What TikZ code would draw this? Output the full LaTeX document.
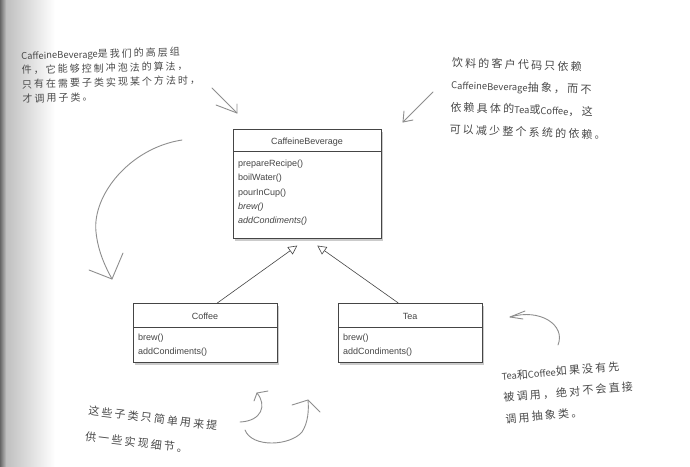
\documentclass[tikz,border=0pt]{standalone}
\usepackage{fontspec}
\setmainfont{Liberation Sans}
\newfontfamily\cjk[LetterSpace=20]{Noto Sans CJK SC}
\newfontfamily\cjkl{Noto Sans CJK SC}
\newcommand\latn[1]{{\cjkl\fontsize{9.4}{10}\selectfont #1}}
\usetikzlibrary{arrows.meta,shadows}
\definecolor{ink}{HTML}{454545}
\definecolor{hand}{HTML}{4A4A4A}
\definecolor{pen}{HTML}{8E8E8E}
\tikzset{
  classbox/.style={draw=ink, line width=0.6pt, fill=white, anchor=north west, inner sep=0pt,
    drop shadow={shadow xshift=2pt, shadow yshift=-2.5pt, fill=black!40}},
  divider/.style={draw=ink, line width=0.5pt},
  ctitle/.style={font=\fontsize{9}{11}\selectfont, text=ink, inner sep=0pt, anchor=base},
  meth/.style={font=\fontsize{9}{11}\selectfont, text=ink, inner sep=0pt, anchor=base west},
  absmeth/.style={meth, font=\fontsize{9}{11}\selectfont\itshape},
  inherit/.style={draw=ink, line width=0.6pt, -{Triangle[open, length=9pt, width=9pt, fill=white]}},
  note/.style={text=hand, inner sep=0pt, align=left, anchor=north west},
  stroke/.style={draw=pen, line width=0.9pt, line cap=round, line join=round}
}
\begin{document}
\begin{tikzpicture}[x=1pt, y=-1pt]
\useasboundingbox (0,0) rectangle (690,466);
\fill[white] (0,0) rectangle (690,466);
% page gutter shading
\shade[left color=black!60, right color=black!25] (0,0) rectangle (6,466);
\shade[left color=black!25, right color=white] (6,0) rectangle (55,466);

% ---------- CaffeineBeverage ----------
\node[classbox, minimum width=148pt, minimum height=109pt] (cb) at (233,129) {};
\draw[divider] ([yshift=-22pt]cb.north west) -- ([yshift=-22pt]cb.north east);
\node[ctitle] (cbt) at (307,144.5) {CaffeineBeverage};
\node[meth] (cbm1) at (238,166.5) {prepareRecipe()};
\node[meth] (cbm2) at (238,180.5) {boilWater()};
\node[meth] (cbm3) at (238,195) {pourInCup()};
\node[absmeth] (cbm4) at (238,209) {brew()};
\node[absmeth] (cbm5) at (238,223.5) {addCondiments()};

% ---------- Coffee ----------
\node[classbox, minimum width=144pt, minimum height=59pt] (co) at (133,303) {};
\draw[divider] ([yshift=-24pt]co.north west) -- ([yshift=-24pt]co.north east);
\node[ctitle] (cot) at (205,319.5) {Coffee};
\node[meth] (com1) at (138,340.5) {brew()};
\node[meth] (com2) at (138,354.5) {addCondiments()};

% ---------- Tea ----------
\node[classbox, minimum width=144pt, minimum height=59pt] (te) at (338,303) {};
\draw[divider] ([yshift=-24pt]te.north west) -- ([yshift=-24pt]te.north east);
\node[ctitle] (tet) at (410,319.5) {Tea};
\node[meth] (tem1) at (343,340.5) {brew()};
\node[meth] (tem2) at (343,354.5) {addCondiments()};

% ---------- inheritance ----------
\coordinate (tipL) at ([xshift=-10pt, yshift=-7pt]cb.south);
\coordinate (tipR) at ([xshift=10pt, yshift=-7pt]cb.south);
\draw[inherit] ([xshift=12pt]co.north) -- (tipL);
\draw[inherit] ([xshift=-12pt]te.north) -- (tipR);

% ---------- notes ----------
\node[note, rotate=1.5, font=\cjk\fontsize{10}{14.3}\selectfont] (n1) at (21,51)
  {{\cjkl\fontsize{9.4}{10}\selectfont CaffeineBeverage}是我们的高层组\\件，它能够控制冲泡法的算法，\\只有在需要子类实现某个方法时，\\才调用子类。};
\node[note, rotate=-2, font=\cjk\fontsize{11}{22.3}\selectfont] (n2) at (452,57)
  {饮料的客户代码只依赖\\\latn{CaffeineBeverage}抽象，而不\\依赖具体的\latn{Tea}或\latn{Coffee}，这\\可以减少整个系统的依赖。};
\node[note, rotate=-7, font=\cjk\fontsize{11}{26}\selectfont] (n3) at (89,405)
  {这些子类只简单用来提\\供一些实现细节。};
\node[note, rotate=5, font=\cjk\fontsize{11}{21.5}\selectfont] (n4) at (501,371)
  {\latn{Tea}和\latn{Coffee}如果没有先\\被调用，绝对不会直接\\调用抽象类。};

% ---------- hand-drawn arrows ----------
% arrow 1
\coordinate (a1s) at (212,88); \coordinate (a1t) at (237,113);
\draw[stroke] (a1s) -- (a1t);
\draw[stroke] (216,105) -- (a1t) -- (237,104);
% arrow 2
\coordinate (a2s) at (433,92); \coordinate (a2t) at (403,122);
\draw[stroke] (a2s) -- (a2t);
\draw[stroke] (404,111) -- (a2t) -- (413,120);
% arrow 3 big curve
\coordinate (a3s) at (182,140); \coordinate (a3t) at (112,279);
\draw[stroke] (a3s) .. controls (130,148) and (92,195) .. (96,232) .. controls (98,252) and (106,268) .. (a3t);
\draw[stroke] (89,270) -- (a3t) -- (123,253);
% arrow 4 near Tea
\coordinate (a4s) at (558,345); \coordinate (a4t) at (510,317);
\draw[stroke] (a4s) .. controls (566,325) and (540,308) .. (a4t);
\draw[stroke] (525,311) -- (a4t) -- (523,319);
% arrow 5 hook
\coordinate (a5s) at (240,422); \coordinate (a5t) at (257,393);
\draw[stroke] (a5s) .. controls (262,421) and (267,405) .. (a5t);
\draw[stroke] (254,401) -- (a5t) -- (268,391);
% arrow 6 swoop
\coordinate (a6s) at (245,430); \coordinate (a6t) at (308,400);
\draw[stroke] (a6s) .. controls (252,448) and (290,446) .. (302,432) .. controls (308,423) and (309,410) .. (a6t);
\draw[stroke] (292,405) -- (a6t) -- (320,412);
\end{tikzpicture}
\end{document}
